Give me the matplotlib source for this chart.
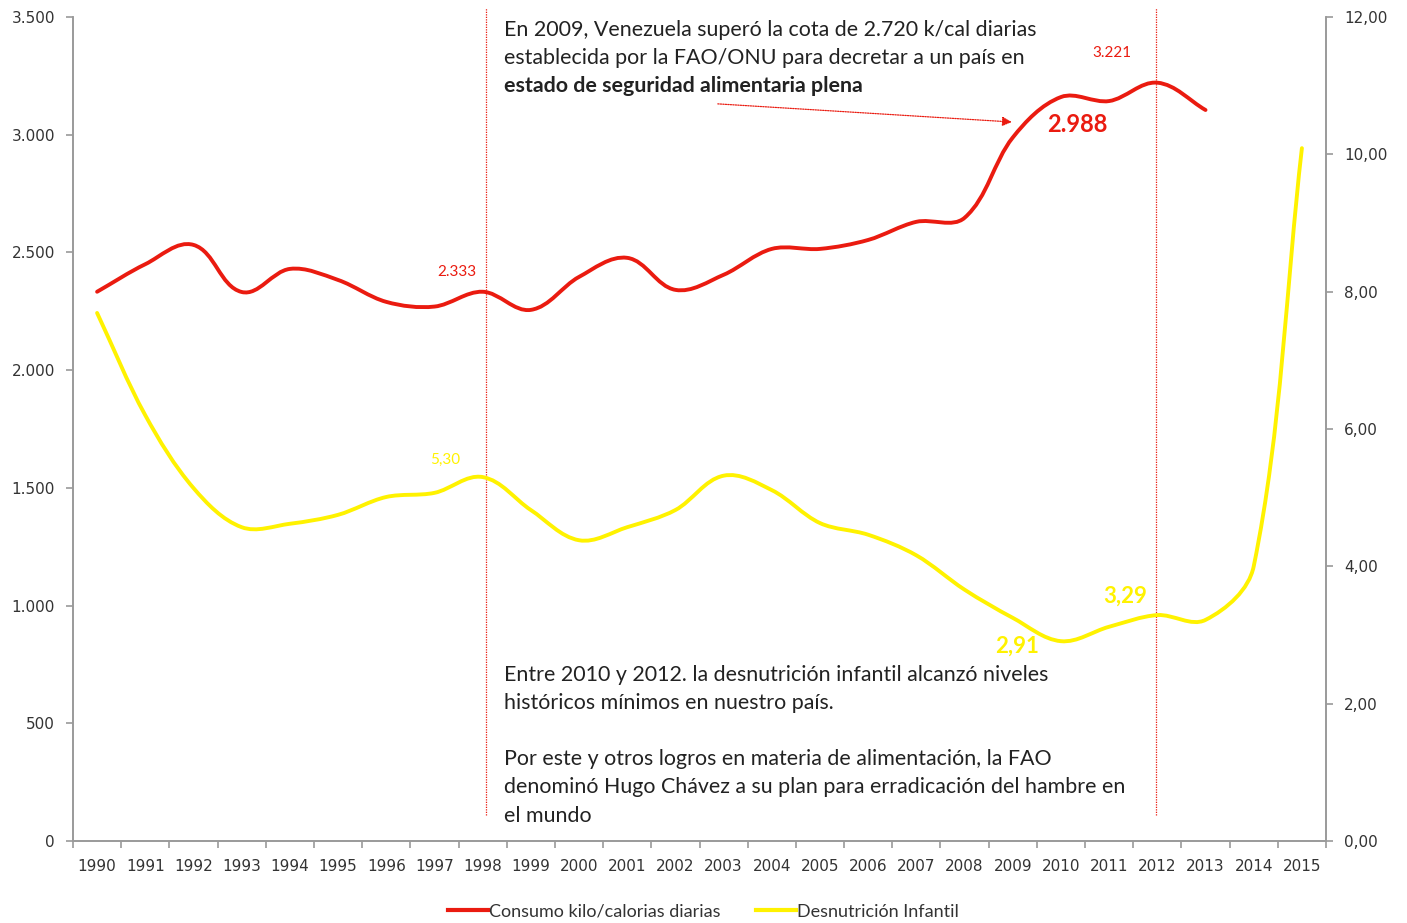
import numpy as np
import matplotlib
matplotlib.use("Agg")
import matplotlib.pyplot as plt
from matplotlib.path import Path
from matplotlib.patches import PathPatch
from matplotlib.lines import Line2D
from matplotlib.ticker import FixedLocator, FuncFormatter

# datos
years = [str(y) for y in range(1990, 2016)]
consumo = [2333, 2450, 2532, 2332, 2430, 2383, 2290, 2270, 2333, 2256,
           2396, 2477, 2341, 2405, 2515, 2515, 2553, 2630, 2647, 2988,
           3160, 3143, 3221, 3105]
desnutricion = [7.69, 6.20, 5.14, 4.57, 4.62, 4.75, 5.01, 5.07, 5.30, 4.82,
                4.38, 4.57, 4.82, 5.32, 5.11, 4.63, 4.46, 4.16, 3.66, 3.25,
                2.91, 3.12, 3.29, 3.22, 4.00, 10.09]

RED = "#EA1B10"
YEL = "#FFF200"
TXT = "#333333"
FONT = "Lato"

W, H = 1407, 923
AX_L, AX_R, AX_B, AX_T = 73, 1326, 841, 17


def smooth_path(xs, ys, sx, sy):
    # curva suave tipo Excel: tangente de los vecinos, limitada por el largo del tramo
    p = np.column_stack([np.asarray(xs, float) * sx, np.asarray(ys, float) * sy])
    n = len(p)
    tang = []
    for i in range(n):
        a = p[i - 1] if i > 0 else p[i]
        b = p[i + 1] if i < n - 1 else p[i]
        t = b - a
        tang.append(t / (np.hypot(*t) or 1))
    verts = [p[0]]
    codes = [Path.MOVETO]
    for i in range(n - 1):
        d = np.hypot(*(p[i + 1] - p[i])) / 3.0
        verts += [p[i] + tang[i] * d, p[i + 1] - tang[i + 1] * d, p[i + 1]]
        codes += [Path.CURVE4] * 3
    verts = np.array(verts) / [sx, sy]
    return Path(verts, codes)


fig = plt.figure(figsize=(W / 100, H / 100), dpi=100)
ax = fig.add_axes([AX_L / W, (H - AX_B) / H, (AX_R - AX_L) / W, (AX_B - AX_T) / H])
ax2 = ax.twinx()

ax.set_xlim(-0.5, len(years) - 0.5)
ax.set_ylim(0, 3500)
ax2.set_ylim(0, 12)

px_x = (AX_R - AX_L) / len(years)
px_h = AX_B - AX_T
x1 = np.arange(len(consumo))
x2 = np.arange(len(desnutricion))
ax.add_patch(PathPatch(smooth_path(x1, consumo, px_x, px_h / 3500), fill=False,
                       edgecolor=RED, lw=2.8, capstyle="round", zorder=3))
ax2.add_patch(PathPatch(smooth_path(x2, desnutricion, px_x, px_h / 12), fill=False,
                        edgecolor=YEL, lw=2.8, capstyle="round", zorder=3))

# ejes
for a in (ax, ax2):
    a.spines["top"].set_visible(False)
    for s in ("left", "right", "bottom"):
        a.spines[s].set_color("#9a9a9a")
        a.spines[s].set_linewidth(1.2)

ax.set_xticks(np.arange(len(years)))
ax.set_xticklabels(years)
ax.xaxis.set_minor_locator(FixedLocator(np.arange(-0.5, len(years), 1)))
ax.tick_params(axis="x", which="major", length=0, pad=13, labelsize=11, labelcolor=TXT)
ax.tick_params(axis="x", which="minor", length=5, color="#9a9a9a", width=1.2)
ax.set_yticks(np.arange(0, 3501, 500))
ax.yaxis.set_major_formatter(FuncFormatter(lambda v, p: f"{int(v):,}".replace(",", ".")))
ax.tick_params(axis="y", length=5, color="#9a9a9a", width=1.2, labelsize=11,
               labelcolor=TXT, pad=8)
ax2.set_yticks(np.arange(0, 12.1, 2))
ax2.yaxis.set_major_formatter(FuncFormatter(lambda v, p: f"{v:.2f}".replace(".", ",")))
ax2.tick_params(axis="y", length=5, color="#9a9a9a", width=1.2, labelsize=11,
                labelcolor=TXT, pad=8)

# lineas verticales de referencia
for xi in (8.08, 21.97):
    ax.plot([xi, xi], [110, 3540], color=RED, lw=0.9, ls=(0, (1, 1)),
            clip_on=False, zorder=2)

# etiquetas de datos
ax.text(7.47, 2417, "2.333", color=RED, fontsize=11, family=FONT,
        ha="center", va="center")
ax.text(21.06, 3348, "3.221", color=RED, fontsize=11, family=FONT,
        ha="center", va="center")
ax.text(20.35, 3042, "2.988", color=RED, fontsize=17, family=FONT,
        weight="bold", ha="center", va="center")
ax2.text(7.22, 5.55, "5,30", color=YEL, fontsize=11, family=FONT,
         ha="center", va="center")
ax2.text(19.09, 2.84, "2,91", color=YEL, fontsize=16, family=FONT,
         weight="bold", ha="center", va="center")
ax2.text(21.33, 3.57, "3,29", color=YEL, fontsize=16, family=FONT,
         weight="bold", ha="center", va="center")

# anotaciones
top_lines = ["En 2009, Venezuela superó la cota de 2.720 k/cal diarias",
             "establecida por la FAO/ONU para decretar a un país en",
             "estado de seguridad alimentaria plena"]
for i, line in enumerate(top_lines):
    fig.text(504 / W, 1 - (30 + 28 * i) / H, line, fontsize=15.4, family=FONT,
             color="#222222", va="center", weight="bold" if i == 2 else "normal")

ax.annotate("", xy=(18.98, 3054), xytext=(12.88, 3131),
            arrowprops=dict(arrowstyle="-|>", color=RED, lw=0.9, ls=(0, (1, 1)),
                            mutation_scale=14, shrinkA=0, shrinkB=0))

bottom_lines = [(675, "Entre 2010 y 2012. la desnutrición infantil alcanzó niveles"),
                (703, "históricos mínimos en nuestro país."),
                (759, "Por este y otros logros en materia de alimentación, la FAO"),
                (787, "denominó Hugo Chávez a su plan para erradicación del hambre en"),
                (816, "el mundo")]
for y, line in bottom_lines:
    fig.text(504 / W, 1 - y / H, line, fontsize=15.4, family=FONT,
             color="#222222", va="center")

handles = [Line2D([], [], color=RED, lw=3), Line2D([], [], color=YEL, lw=3)]
fig.legend(handles, ["Consumo kilo/calorias diarias", "Desnutrición Infantil"],
           loc="lower center", bbox_to_anchor=(0.5, -0.014), ncol=2, frameon=False,
           prop={"family": FONT, "size": 13}, handlelength=2.2, handletextpad=0.05,
           columnspacing=2.0, labelcolor=TXT)

fig.savefig("out.png", dpi=100)
